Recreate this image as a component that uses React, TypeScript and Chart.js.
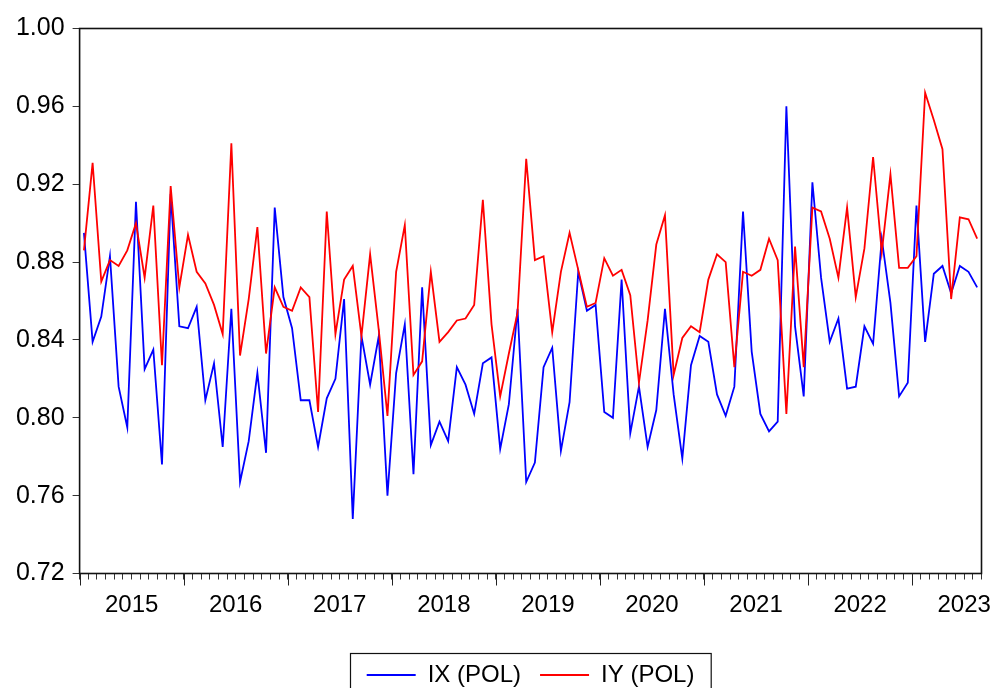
import React, { useEffect, useRef } from "react";
import { Chart, registerables } from "chart.js";

Chart.register(...registerables);

// Monthly observations, 2015M01 .. 2023M08
const START_YEAR = 2015;
const MONTH_COUNT = 104;
const months: string[] = Array.from(
  { length: MONTH_COUNT },
  (_, i) => `${START_YEAR + Math.floor(i / 12)}M${String((i % 12) + 1).padStart(2, "0")}`
);

const ixPol: number[] = [
  0.895, 0.839, 0.852, 0.883, 0.816, 0.795, 0.911, 0.825, 0.835, 0.776, 0.915, 0.847, 0.846, 0.857, 0.809,
  0.828, 0.785, 0.856, 0.767, 0.788, 0.823, 0.782, 0.908, 0.862, 0.846, 0.809, 0.809, 0.785, 0.810, 0.820,
  0.861, 0.748, 0.842, 0.817, 0.842, 0.760, 0.823, 0.848, 0.771, 0.867, 0.786, 0.798, 0.788, 0.826, 0.817,
  0.802, 0.828, 0.831, 0.784, 0.807, 0.856, 0.767, 0.777, 0.826, 0.836, 0.783, 0.808, 0.875, 0.855, 0.858,
  0.803, 0.800, 0.871, 0.792, 0.816, 0.785, 0.804, 0.856, 0.812, 0.779, 0.827, 0.842, 0.839, 0.812, 0.801,
  0.816, 0.906, 0.834, 0.802, 0.793, 0.798, 0.960, 0.847, 0.811, 0.921, 0.872, 0.839, 0.851, 0.815, 0.816,
  0.847, 0.838, 0.892, 0.859, 0.811, 0.818, 0.909, 0.839, 0.874, 0.878, 0.864, 0.878, 0.875, 0.867,
];

const iyPol: number[] = [
  0.886, 0.931, 0.870, 0.881, 0.878, 0.886, 0.900, 0.872, 0.909, 0.827, 0.919, 0.867, 0.894, 0.875, 0.869,
  0.858, 0.843, 0.941, 0.832, 0.861, 0.898, 0.833, 0.867, 0.857, 0.855, 0.867, 0.862, 0.803, 0.906, 0.843,
  0.871, 0.878, 0.842, 0.884, 0.845, 0.801, 0.875, 0.899, 0.822, 0.829, 0.875, 0.839, 0.844, 0.850, 0.851,
  0.858, 0.912, 0.848, 0.811, 0.833, 0.854, 0.933, 0.881, 0.883, 0.844, 0.875, 0.895, 0.876, 0.857, 0.859,
  0.882, 0.873, 0.876, 0.863, 0.818, 0.850, 0.889, 0.904, 0.822, 0.841, 0.847, 0.844, 0.871, 0.884, 0.880,
  0.826, 0.875, 0.873, 0.876, 0.892, 0.881, 0.802, 0.888, 0.826, 0.908, 0.906, 0.892, 0.872, 0.908, 0.862,
  0.887, 0.934, 0.885, 0.925, 0.877, 0.877, 0.883, 0.967, 0.953, 0.938, 0.861, 0.903, 0.902, 0.892,
];

const yTicks: number[] = [0.72, 0.76, 0.8, 0.84, 0.88, 0.92, 0.96, 1.0];

const FONT = "'Liberation Sans', Arial, sans-serif";
const INK = "#000000";

// Frame, year ticks and the boxed legend outline
const decorations = {
  id: "decorations",
  afterDraw(chart: any) {
    const { ctx, chartArea: a, scales } = chart;
    const x = scales.x;
    const step = (a.right - a.left) / months.length;
    ctx.save();
    ctx.strokeStyle = "#111111";
    ctx.lineWidth = 1.6;
    ctx.strokeRect(a.left, a.top, a.right - a.left, a.bottom - a.top);

    ctx.lineWidth = 1;
    ctx.strokeStyle = "#222222";
    ctx.beginPath();
    for (let i = 0; i < months.length; i += 12) {
      const px = Math.round(x.getPixelForValue(i) - step / 2) + 0.5;
      ctx.moveTo(px, a.bottom);
      ctx.lineTo(px, a.bottom + 12);
    }
    ctx.stroke();

    const boxes = chart.legend?.legendHitBoxes;
    if (boxes && boxes.length) {
      const first = boxes[0];
      const last = boxes[boxes.length - 1];
      const cy = first.top + first.height / 2;
      const left = first.left - 17;
      const right = last.left + last.width + 16;
      ctx.lineWidth = 1.2;
      ctx.strokeStyle = "#111111";
      ctx.strokeRect(Math.round(left) + 0.5, Math.round(cy - 22) + 0.5, right - left, 44);
    }
    ctx.restore();
  },
};

export default function App() {
  const canvasRef = useRef<HTMLCanvasElement | null>(null);

  useEffect(() => {
    document.body.style.margin = "0";
    const canvas = canvasRef.current;
    if (!canvas) return;

    const chart = new Chart(canvas, {
      type: "line",
      data: {
        labels: months,
        datasets: [
          {
            label: "IX (POL)",
            data: ixPol,
            borderColor: "#0000ff",
            backgroundColor: "#0000ff",
            borderWidth: 1.8,
            pointRadius: 0,
            tension: 0,
            order: 1,
          },
          {
            label: "IY (POL)",
            data: iyPol,
            borderColor: "#ff0000",
            backgroundColor: "#ff0000",
            borderWidth: 1.8,
            pointRadius: 0,
            tension: 0,
            order: 0,
          },
        ],
      },
      options: {
        responsive: false,
        animation: false,
        devicePixelRatio: 1,
        layout: { padding: { top: 28.5, right: 8.5, left: 0, bottom: 0 } },
        plugins: {
          tooltip: { enabled: false },
          legend: {
            position: "bottom",
            fullSize: false,
            labels: {
              usePointStyle: true,
              pointStyle: "line",
              pointStyleWidth: 49,
              boxHeight: 24,
              padding: 19,
              color: INK,
              font: { family: FONT, size: 24 },
              sort: (a: any, b: any) => a.datasetIndex - b.datasetIndex,
            },
          },
        },
        scales: {
          x: {
            type: "category",
            offset: true,
            border: { display: false },
            grid: {
              display: true,
              offset: true,
              drawOnChartArea: false,
              drawTicks: true,
              tickLength: 6,
              tickColor: "#333333",
              tickWidth: 1,
            },
            ticks: {
              autoSkip: false,
              maxRotation: 0,
              minRotation: 0,
              labelOffset: 4.34,
              padding: 11,
              color: INK,
              font: { family: FONT, size: 24 },
              callback: (_v: any, i: number) =>
                i % 12 === 5 ? String(START_YEAR + Math.floor(i / 12)) : "",
            },
            afterFit: (s: any) => {
              s.height = 70.5;
            },
          },
          y: {
            min: 0.72,
            max: 1.0,
            border: { display: false },
            grid: {
              drawOnChartArea: false,
              drawTicks: true,
              tickLength: 7,
              tickColor: "#333333",
            },
            ticks: {
              padding: 8,
              color: INK,
              font: { family: FONT, size: 25 },
              callback: (v: any) => Number(v).toFixed(2),
            },
            afterBuildTicks: (s: any) => {
              s.ticks = yTicks.map((v) => ({ value: v }));
            },
            afterFit: (s: any) => {
              s.width = 79.6;
            },
          },
        },
      },
      plugins: [decorations],
    });

    return () => chart.destroy();
  }, []);

  return (
    <div
      style={{
        position: "fixed",
        left: 0,
        top: 0,
        width: 990,
        height: 688,
        overflow: "hidden",
        background: "#ffffff",
      }}
    >
      <canvas ref={canvasRef} width={990} height={697} style={{ width: 990, height: 697, display: "block" }} />
    </div>
  );
}
